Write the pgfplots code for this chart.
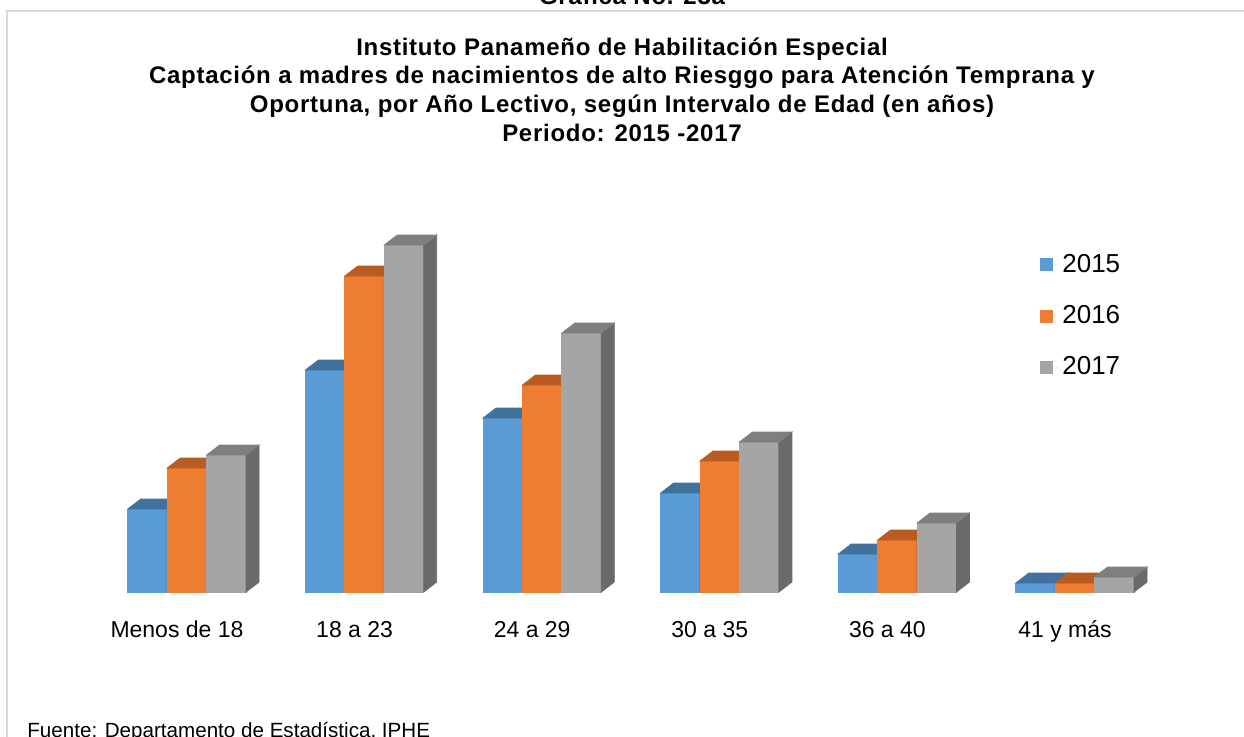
\documentclass[border=0pt]{standalone}
\usepackage{fontspec}
\setmainfont{Liberation Sans}
\usepackage{pgfplots}
\usepackage{pgfplotstable}
\pgfplotsset{compat=1.18}

\definecolor{azul}{HTML}{5B9BD5}
\definecolor{azultop}{HTML}{41719C}
\definecolor{azullado}{HTML}{3A668F}
\definecolor{naranja}{HTML}{ED7D31}
\definecolor{naranjatop}{HTML}{B85C22}
\definecolor{naranjalado}{HTML}{A9541F}
\definecolor{gris}{HTML}{A5A5A5}
\definecolor{gristop}{HTML}{7F7F7F}
\definecolor{grislado}{HTML}{6A6A6A}
\definecolor{marco}{HTML}{D9D9D9}

% empty mark: the scatter code draws the 3D faces itself
\pgfdeclareplotmark{nada}{}

% heights of the front faces
\pgfplotstableread{
x a b c
0 83 124 137
1 222 316 347
2 174 207 259
3 99 131 150
4 38 52 69
5 9 9 15
}\datos

\pgfplotsset{
  frente/.style n args={2}{ybar, draw=none, fill=#1, bar width=19.7pt, bar shift=#2,
    legend image code/.code={\fill[#1] (0pt,-3.25pt) rectangle (6.5pt,3.25pt);
      \path (0pt,0pt) -- (9pt,0pt);}},
  caja/.style n args={4}{only marks, scatter, forget plot, mark=nada,
    visualization depends on={rawy \as \alto},
    scatter/@pre marker code/.code={%
      \fill[#2] (#1-9.85pt,0pt) rectangle (#1+9.85pt,-\alto*0.5pt);
      \fill[#4] (#1+9.85pt,0pt) -- ++(6.5pt,5pt) -- ++(0pt,-\alto*0.5pt) -- ++(-6.5pt,-5pt) -- cycle;
      \fill[#3] (#1-9.85pt,0pt) -- (#1+9.85pt,0pt) -- ++(6.5pt,5pt) -- ++(-19.7pt,0pt) -- cycle;
    },
    scatter/@post marker code/.code={}},
}

\begin{document}
\begin{tikzpicture}[x=0.5pt,y=0.5pt]
\path[use as bounding box] (0,0) rectangle (1244,736);
\clip (0,0) rectangle (1244,736);
\draw[marco, line width=1pt] (7,-20) -- (7,725) -- (1260,725);

\node[anchor=base, font=\bfseries\fontsize{12}{14}\selectfont\addfontfeature{LetterSpace=3}] at (632,732) {Gráfica No. 23a};
\begin{scope}[every node/.style={anchor=base, font=\bfseries\fontsize{12}{14}\selectfont\addfontfeature{LetterSpace=3}}]
  \node at (622,681) {Instituto  Panameño de Habilitación Especial};
  \node at (622,653) {Captación a madres de nacimientos de alto Riesggo para Atención Temprana y};
  \node at (622,624) {Oportuna, por Año Lectivo, según Intervalo de Edad (en años)};
  \node at (622,595) {Periodo: 2015 -2017};
\end{scope}

\begin{axis}[
  at={(49.1pt,72pt)}, anchor=south west,
  scale only axis, width=532.8pt, height=200pt,
  xmin=-0.5, xmax=5.5, ymin=0, ymax=400,
  clip=false,
  axis line style={draw=none},
  ytick=\empty,
  xtick={0,...,5},
  xticklabels={Menos de 18, 18 a 23, 24 a 29, 30 a 35, 36 a 40, 41 y más},
  major tick length=0pt,
  xticklabel style={font=\fontsize{11.5}{13}\selectfont, anchor=base, yshift=-22.5pt, xshift=-5pt},
  legend style={at={(0.8838,0.855)}, anchor=north west, draw=none, fill=none,
    inner sep=0pt, row sep=11pt, font=\fontsize{13}{15}\selectfont},
  legend cell align=left,
]
  \addplot[frente={azul}{-19.7pt}] table[x=x,y=a]{\datos};
  \addlegendentry{2015}
  \addplot[caja={-19.7pt}{azul}{azultop}{azullado}] table[x=x,y=a]{\datos};
  \addplot[frente={naranja}{0pt}] table[x=x,y=b]{\datos};
  \addlegendentry{2016}
  \addplot[caja={0pt}{naranja}{naranjatop}{naranjalado}] table[x=x,y=b]{\datos};
  \addplot[frente={gris}{19.7pt}] table[x=x,y=c]{\datos};
  \addlegendentry{2017}
  \addplot[caja={19.7pt}{gris}{gristop}{grislado}] table[x=x,y=c]{\datos};
\end{axis}

\node[anchor=base west, inner sep=0pt, font=\fontsize{10.3}{12}\selectfont] at (27,-1) {Fuente: Departamento de Estadística, IPHE};
\end{tikzpicture}
\end{document}
